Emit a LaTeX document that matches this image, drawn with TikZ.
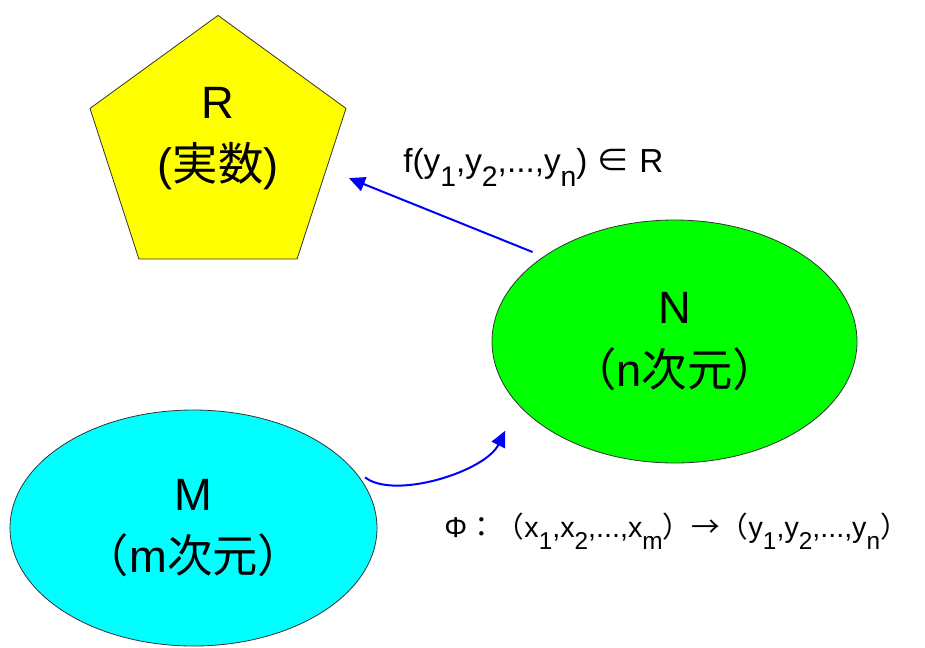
\documentclass[tikz,border=0pt]{standalone}
\usepackage{fontspec}
\setmainfont{Liberation Sans}
\newfontfamily\jp{Noto Sans CJK JP}
\usepackage{tikz}
\usetikzlibrary{shapes.geometric,arrows.meta}
\definecolor{realyellow}{RGB}{255,255,0}
\definecolor{ngreen}{RGB}{0,255,0}
\definecolor{mcyan}{RGB}{0,255,255}
\definecolor{mapblue}{RGB}{0,0,255}
\newcommand{\low}[1]{\raisebox{-0.42em}{\scalebox{0.85}{#1}}}
\tikzstyle{setlabel} = [font=\fontsize{34}{47}\selectfont, align=center]
\tikzstyle{realset} = [draw=black!80, line width=0.6pt, fill=realyellow, regular polygon, regular polygon sides=5, minimum size=201.9pt]
\tikzstyle{space} = [draw=black!80, line width=0.6pt, ellipse, setlabel]
\tikzstyle{maplabel} = [inner sep=0pt, anchor=base west]
\tikzstyle{map} = [draw=mapblue, line width=1.5pt, -{Triangle[length=12pt,width=11pt]}]

\begin{document}
\begin{tikzpicture}[x=0.75pt, y=-0.75pt]
    \useasboundingbox (0,0) rectangle (925,647);
    % Sets
    \node [realset, label={[setlabel, yshift=8.5pt]center:R\\({\jp 実数})}] (R) at (218,150) {};
    \node [space, fill=ngreen, minimum width=273.75pt, minimum height=182.25pt] (N) at (674.5,341.5) {N\\{\jp （}n{\jp 次元）}};
    \node [space, fill=mcyan, minimum width=275.25pt, minimum height=177pt] (M) at (193.5,528) {M\\{\jp （}m{\jp 次元）}};

    % Labels
    \node [maplabel, font=\fontsize{25}{29}\selectfont] (flabel) at (403,172) {f(y\low{1},y\low{2},...,y\low{n}) {\jp ∈} R};
    \node [maplabel, font=\fontsize{21.5}{26}\selectfont] (philabel) at (444,537) {Φ{\jp ：（}x\low{1},x\low{2},...,x\low{m}{\jp ）→（}y\low{1},y\low{2},...,y\low{n}{\jp ）}};

    % Maps
    \draw [map, shorten <=8.85pt, shorten >=18pt] (N.147) -- (R.-10);
    \draw [map, shorten <=15pt, shorten >=21.75pt] (M.22) .. controls +(45,35) and +(-33,67) .. (N.202);
\end{tikzpicture}
\end{document}
